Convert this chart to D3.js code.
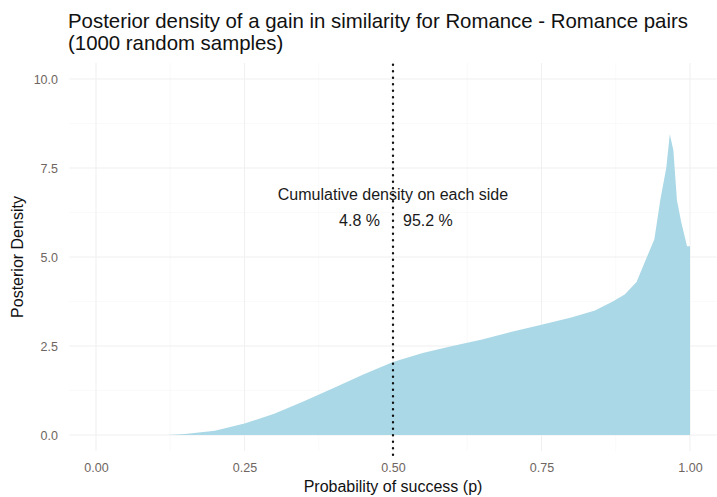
<!DOCTYPE html>
<html>
<head>
<meta charset="utf-8">
<script src="https://cdn.jsdelivr.net/npm/d3@7"></script>
<style>
  html, body { margin: 0; padding: 0; background: #ffffff; }
  svg { display: block; font-family: "Liberation Sans", Arial, Helvetica, sans-serif; }
</style>
</head>
<body>
<svg id="chart" width="717" height="497"></svg>
<script>
// ---- data ----
const densityP = [0.12, 0.15, 0.20, 0.25, 0.30, 0.35, 0.40, 0.45, 0.50, 0.55, 0.60, 0.65, 0.70, 0.75, 0.80, 0.84, 0.87, 0.89, 0.91, 0.925, 0.94, 0.95, 0.96, 0.966, 0.972, 0.978, 0.985, 0.995, 1.0];
const densityY = [0.0, 0.03, 0.12, 0.32, 0.6, 0.95, 1.32, 1.7, 2.05, 2.3, 2.5, 2.68, 2.9, 3.1, 3.3, 3.5, 3.75, 3.95, 4.3, 4.9, 5.5, 6.6, 7.5, 8.45, 8.0, 6.6, 6.0, 5.3, 5.3];
const xTicks = [0, 0.25, 0.5, 0.75, 1.0];
const yTicks = [0, 2.5, 5, 7.5, 10];
const threshold = 0.5;
const leftShare = "4.8 %";
const rightShare = "95.2 %";
const titleLines = ["Posterior density of a gain in similarity for Romance - Romance pairs", "(1000 random samples)"];
const xTitle = "Probability of success (p)";
const yTitle = "Posterior Density";
const annotTitle = "Cumulative density on each side";

// ---- layout ----
const svg = d3.select("#chart");
const x = d3.scaleLinear().domain([0, 1]).range([96, 690]);
const y = d3.scaleLinear().domain([0, 10]).range([435, 79]);

// grid
const grid = svg.append("g");
const xMinor = [0.125, 0.375, 0.625, 0.875];
const yMinor = [1.25, 3.75, 6.25, 8.75];
grid.selectAll("line.ymin").data(yMinor).join("line")
  .attr("x1", x(-0.045)).attr("x2", x(1.045))
  .attr("y1", d => y(d)).attr("y2", d => y(d))
  .attr("stroke", "#f7f7f7").attr("stroke-width", 0.6);
grid.selectAll("line.xmin").data(xMinor).join("line")
  .attr("x1", d => x(d)).attr("x2", d => x(d))
  .attr("y1", y(-0.45)).attr("y2", y(10.45))
  .attr("stroke", "#f7f7f7").attr("stroke-width", 0.6);
grid.selectAll("line.y").data(yTicks).join("line")
  .attr("x1", x(-0.045)).attr("x2", x(1.045))
  .attr("y1", d => y(d)).attr("y2", d => y(d))
  .attr("stroke", "#f0f0f0").attr("stroke-width", 1.1);
grid.selectAll("line.x").data(xTicks).join("line")
  .attr("x1", d => x(d)).attr("x2", d => x(d))
  .attr("y1", y(-0.45)).attr("y2", y(10.45))
  .attr("stroke", "#f0f0f0").attr("stroke-width", 1.1);

// density area
const pts = densityP.map((p, i) => ({p, d: densityY[i]}));
pts.push({p: 1.0, d: 0});
const area = d3.area()
  .x(d => x(d.p)).y0(y(0)).y1(d => y(d.d))
  .curve(d3.curveLinear);
svg.append("path").datum(pts)
  .attr("d", area)
  .attr("fill", "#aad8e6");

// threshold dotted line
svg.append("line")
  .attr("x1", x(threshold)).attr("x2", x(threshold))
  .attr("y1", y(10.4)).attr("y2", y(-0.6))
  .attr("stroke", "#111").attr("stroke-width", 2.4)
  .attr("stroke-linecap", "round")
  .attr("stroke-dasharray", "0.1,6.4");

// axes (tick labels only, minimal theme)
const tickFont = "'Liberation Sans', Arial, sans-serif";
const xAxis = d3.axisBottom(x).tickValues(xTicks).tickFormat(d3.format(".2f")).tickSize(0).tickPadding(0);
const gx = svg.append("g").attr("transform", `translate(0,${463})`).call(xAxis);
gx.select(".domain").remove();
gx.selectAll("text").attr("fill", "#6e6560").attr("font-size", "12.5px")
  .attr("font-family", tickFont);

const yAxis = d3.axisLeft(y).tickValues(yTicks).tickFormat(d3.format(".1f")).tickSize(0).tickPadding(0);
const gy = svg.append("g").attr("transform", `translate(58,0)`).call(yAxis);
gy.select(".domain").remove();
gy.selectAll("text").attr("fill", "#6e6560").attr("font-size", "12.5px")
  .attr("font-family", tickFont);

// annotation
svg.append("text").attr("x", x(threshold)).attr("y", 200)
  .attr("text-anchor", "middle").attr("font-size", "16px").attr("fill", "#1a1a1a")
  .text(annotTitle);
svg.append("text").attr("x", x(threshold) - 13).attr("y", 226)
  .attr("text-anchor", "end").attr("font-size", "16px").attr("fill", "#1a1a1a")
  .text(leftShare);
svg.append("text").attr("x", x(threshold) + 10).attr("y", 226)
  .attr("text-anchor", "start").attr("font-size", "16px").attr("fill", "#1a1a1a")
  .text(rightShare);

// titles
svg.append("g").selectAll("text").data(titleLines).join("text")
  .attr("x", 68).attr("y", (d, i) => 28 + i * 22)
  .attr("font-size", "20.4px").attr("fill", "#111")
  .text(d => d);

svg.append("text").attr("x", x(0.5)).attr("y", 492)
  .attr("text-anchor", "middle").attr("font-size", "16px").attr("fill", "#111")
  .text(xTitle);

svg.append("text")
  .attr("transform", `translate(23,${y(5)}) rotate(-90)`)
  .attr("text-anchor", "middle").attr("font-size", "16px").attr("fill", "#111")
  .text(yTitle);
</script>
</body>
</html>
